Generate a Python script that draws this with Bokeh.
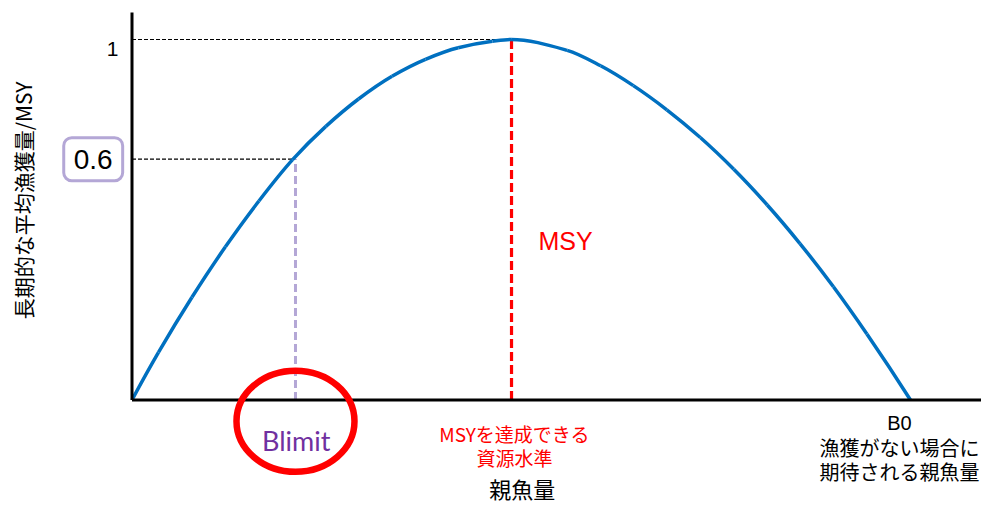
import math
from bokeh.plotting import figure
from bokeh.models import Label, Range1d
from bokeh.embed import file_html
from bokeh.resources import INLINE

# ---- data ----
biomass = [0.0, 0.034, 0.077, 0.120, 0.163, 0.206, 0.249, 0.291, 0.334, 0.377, 0.419, 0.463,
           0.487, 0.559, 0.602, 0.644, 0.687, 0.730, 0.773, 0.816, 0.858, 0.901, 0.944, 1.0]
yield_ratio = [0.0, 0.132, 0.285, 0.425, 0.552, 0.666, 0.759, 0.835, 0.898, 0.945, 0.977, 0.995,
               1.0, 0.970, 0.927, 0.872, 0.805, 0.728, 0.640, 0.541, 0.434, 0.314, 0.183, 0.0]
msy_x = 0.4875
msy_y = 1.0
blimit_x = 0.210
blimit_y = 0.668
b0_x = 1.0
y_tick_values = [1.0, 0.668]
y_tick_labels = ["1", "0.6"]
axis_top = 1.075
axis_right = 1.12

W, H = 981, 505
# canvas pixel = reference pixel:  cx = 131.5 + 778.5*x ; cy = 399.5 - 360.5*y
x0 = (0 - 131.5) / 778.5
x1 = (W - 131.5) / 778.5
y1 = 399.5 / 360.5
y0 = (399.5 - H) / 360.5

def px(v):
    return (v - 131.5) / 778.5

def py(v):
    return (399.5 - v) / 360.5

# smooth curve through the read points (monotone cubic Hermite drawn as Bezier pieces)
def pchip_slopes(xs, ys):
    n = len(xs)
    h = [xs[i + 1] - xs[i] for i in range(n - 1)]
    d = [(ys[i + 1] - ys[i]) / h[i] for i in range(n - 1)]
    m = [0.0] * n
    for k in range(1, n - 1):
        if d[k - 1] * d[k] <= 0:
            m[k] = 0.0
        else:
            w1 = 2 * h[k] + h[k - 1]
            w2 = h[k] + 2 * h[k - 1]
            m[k] = (w1 + w2) / (w1 / d[k - 1] + w2 / d[k])
    def end(h0, h1, d0, d1):
        s = ((2 * h0 + h1) * d0 - h0 * d1) / (h0 + h1)
        if s * d0 <= 0:
            return 0.0
        if d0 * d1 <= 0 and abs(s) > abs(3 * d0):
            return 3 * d0
        return s
    m[0] = end(h[0], h[1], d[0], d[1])
    m[-1] = end(h[-1], h[-2], d[-1], d[-2])
    return m

sl = pchip_slopes(biomass, yield_ratio)
bx0, by0, bx1, by1, c0x, c0y, c1x, c1y = [], [], [], [], [], [], [], []
for i in range(len(biomass) - 1):
    hh = biomass[i + 1] - biomass[i]
    bx0.append(biomass[i]); by0.append(yield_ratio[i])
    bx1.append(biomass[i + 1]); by1.append(yield_ratio[i + 1])
    c0x.append(biomass[i] + hh / 3); c0y.append(yield_ratio[i] + sl[i] * hh / 3)
    c1x.append(biomass[i + 1] - hh / 3); c1y.append(yield_ratio[i + 1] - sl[i + 1] * hh / 3)

p = figure(width=W, height=H, output_backend="svg", toolbar_location=None,
           x_range=Range1d(x0, x1), y_range=Range1d(y0, y1),
           x_axis_location=None, y_axis_location=None, min_border=0)
p.outline_line_color = None
p.xgrid.visible = False
p.ygrid.visible = False
p.background_fill_color = "white"

JP = "Noto Sans CJK JP"
LAT = "Liberation Sans"

# guide dashed lines
p.line([0, msy_x], [msy_y, msy_y], line_color="black", line_width=1.2, line_dash="4 2")
p.line([0, blimit_x], [blimit_y, blimit_y], line_color="black", line_width=1.2, line_dash="4 2")
p.line([msy_x, msy_x], [0, msy_y], line_color="#FF0000", line_width=3.2, line_dash="9 4")
p.line([blimit_x, blimit_x], [0, blimit_y], line_color="#B4A7D6", line_width=3, line_dash="8 4")

# curve
p.bezier(x0=bx0, y0=by0, x1=bx1, y1=by1, cx0=c0x, cy0=c0y, cx1=c1x, cy1=c1y,
         line_color="#0070C0", line_width=3.5)

# axes lines
p.line([0, 0], [0, axis_top], line_color="black", line_width=3)
p.line([0, axis_right], [0, 0], line_color="black", line_width=3)

# red ellipse around Blimit
p.ellipse(x=[blimit_x], y=[py(420.8)], width=118, height=101,
          width_units="screen", height_units="screen",
          fill_color=None, line_color="#FF0000", line_width=6.5)

# y tick labels
p.add_layout(Label(x=px(118), y=py(48.3), text=y_tick_labels[0], text_align="right",
                   text_baseline="alphabetic", text_font=LAT, text_font_size="21px",
                   text_color="black"))
p.add_layout(Label(x=px(92.7), y=y_tick_values[1], text=y_tick_labels[1], text_align="center",
                   text_baseline="middle", text_font=LAT, text_font_size="28px",
                   text_color="black", border_line_color="#B4A7D6", border_line_width=3,
                   background_fill_color="white", border_radius=8, padding=(10, 12)))

# y axis title (rotated)
p.add_layout(Label(x=px(22.5), y=py(200), text="長期的な平均漁獲量/MSY", angle=math.pi / 2,
                   text_align="center", text_baseline="middle", text_font=JP,
                   text_font_size="21px", text_color="black"))

# MSY label
p.add_layout(Label(x=px(538), y=py(240.7), text="MSY", text_align="left",
                   text_baseline="alphabetic", text_font=LAT, text_font_size="25px",
                   text_color="#FF0000"))

# Blimit
p.add_layout(Label(x=blimit_x + 0.001, y=py(440), text="Blimit", text_align="center",
                   text_baseline="alphabetic", text_font="Lato", text_font_size="27px",
                   text_color="#7030A0"))

# MSY level text
for txt, yy in [("MSYを達成できる", 433), ("資源水準", 457)]:
    p.add_layout(Label(x=px(514), y=py(yy), text=txt, text_align="center",
                       text_baseline="middle", text_font=JP, text_font_size="19px",
                       text_color="#FF0000"))

# B0 text
for txt, yy, fnt in [("B0", 422.5, LAT), ("漁獲がない場合に", 446.5, JP), ("期待される親魚量", 470.8, JP)]:
    p.add_layout(Label(x=px(899), y=py(yy), text=txt, text_align="center",
                       text_baseline="middle", text_font=fnt, text_font_size="20px",
                       text_color="black"))

# x axis title
p.add_layout(Label(x=px(521.7), y=py(487), text="親魚量", text_align="center",
                   text_baseline="middle", text_font=JP, text_font_size="22px",
                   text_color="black"))

open("out.html", "w").write(file_html(p, INLINE))
